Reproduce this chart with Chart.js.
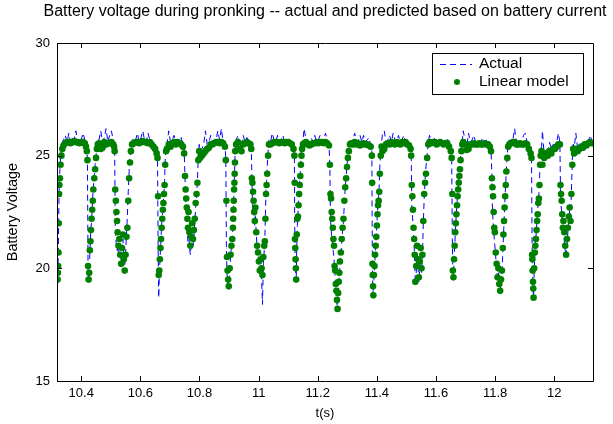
<!DOCTYPE html>
<html>
<head>
<meta charset="utf-8">
<script src="https://cdn.jsdelivr.net/npm/chart.js@4.4.1/dist/chart.umd.min.js"></script>
<style>
  html, body { margin: 0; padding: 0; background: #fff; }
  #wrap { width: 613px; height: 424px; }
</style>
</head>
<body>
<div id="wrap"><canvas id="c" width="613" height="424"></canvas></div>
<script>
const titleText = 'Battery voltage during pronking -- actual and predicted based on battery current';
const xLabel = 't(s)';
const yLabel = 'Battery Voltage';
const seriesNames = ['Actual', 'Linear model'];
const xTicks = [10.4, 10.6, 10.8, 11, 11.2, 11.4, 11.6, 11.8, 12];
const xTickLabels = ['10.4', '10.6', '10.8', '11', '11.2', '11.4', '11.6', '11.8', '12'];
const yTicks = [15, 20, 25, 30];
const xRange = [10.318, 12.131];
const yRange = [15, 30];

// sample times (s): sparse on the plateaus, denser in the dips
const time = [
  10.320, 10.321, 10.322, 10.323, 10.324, 10.325, 10.326, 10.328, 10.330, 10.333, 10.336,
  10.340, 10.346, 10.352, 10.358, 10.364, 10.370, 10.376, 10.382, 10.388, 10.394, 10.400, 10.406, 10.412, 10.416,
  10.419, 10.421, 10.423, 10.425, 10.427, 10.429, 10.431, 10.433, 10.435, 10.437, 10.439, 10.441, 10.444, 10.447, 10.450, 10.453, 10.456,
  10.460, 10.466, 10.472, 10.478, 10.484, 10.490, 10.496, 10.502, 10.508, 10.511,
  10.513, 10.515, 10.517, 10.519, 10.521, 10.523, 10.526, 10.529, 10.532, 10.535, 10.538, 10.541, 10.544, 10.547, 10.550, 10.553, 10.556, 10.559, 10.562, 10.565, 10.568, 10.572,
  10.578, 10.584, 10.590, 10.596, 10.602, 10.608, 10.614, 10.620, 10.626, 10.632, 10.638, 10.644, 10.650, 10.655,
  10.658, 10.660, 10.662, 10.664, 10.666, 10.668, 10.670, 10.672, 10.674, 10.676, 10.678, 10.680, 10.682, 10.684, 10.687,
  10.690, 10.696, 10.702, 10.708, 10.714, 10.720, 10.726, 10.732, 10.738, 10.744, 10.748,
  10.751, 10.753, 10.755, 10.757, 10.759, 10.761, 10.763, 10.766, 10.769, 10.772, 10.775, 10.778, 10.781, 10.784, 10.787, 10.790, 10.793, 10.796, 10.799,
  10.802, 10.808, 10.814, 10.820, 10.826, 10.832, 10.838, 10.844, 10.850, 10.856, 10.862, 10.868, 10.874, 10.880, 10.886,
  10.889, 10.891, 10.893, 10.895, 10.897, 10.899, 10.902, 10.905, 10.908, 10.911, 10.913, 10.914, 10.915, 10.916, 10.917, 10.918, 10.919, 10.920, 10.921,
  10.924, 10.930, 10.936, 10.942, 10.948, 10.954, 10.960, 10.966, 10.972, 10.975,
  10.977, 10.979, 10.981, 10.983, 10.985, 10.987, 10.989, 10.992, 10.995, 10.998, 11.001, 11.004, 11.007, 11.010, 11.013, 11.016, 11.019, 11.021, 11.023, 11.025, 11.027, 11.029, 11.032, 11.035,
  11.040, 11.046, 11.052, 11.058, 11.064, 11.070, 11.076, 11.082, 11.088, 11.094, 11.100, 11.106, 11.112, 11.118,
  11.121, 11.122, 11.123, 11.124, 11.125, 11.126, 11.127, 11.129, 11.131, 11.133, 11.135, 11.137, 11.139, 11.141, 11.143, 11.145, 11.147, 11.150,
  11.154, 11.160, 11.166, 11.172, 11.178, 11.184, 11.190, 11.196, 11.202, 11.208, 11.214, 11.220, 11.226, 11.232, 11.238,
  11.241, 11.243, 11.245, 11.247, 11.249, 11.251, 11.253, 11.255, 11.257, 11.259, 11.261, 11.263, 11.265, 11.267, 11.269, 11.271, 11.273, 11.275, 11.278, 11.281, 11.284, 11.287, 11.290, 11.293, 11.296, 11.299, 11.302, 11.305, 11.309,
  11.313, 11.319, 11.325, 11.331, 11.337, 11.343, 11.349, 11.355, 11.361, 11.367, 11.373, 11.379,
  11.383, 11.384, 11.385, 11.386, 11.387, 11.388, 11.390, 11.392, 11.394, 11.396, 11.398, 11.400, 11.402, 11.404, 11.406, 11.408, 11.410, 11.413, 11.416,
  11.419, 11.425, 11.431, 11.437, 11.443, 11.449, 11.455, 11.461, 11.467, 11.473, 11.479, 11.485, 11.491, 11.497, 11.503, 11.509, 11.514,
  11.516, 11.518, 11.520, 11.522, 11.524, 11.526, 11.528, 11.530, 11.533, 11.536, 11.539, 11.542, 11.545, 11.548, 11.551, 11.554, 11.557, 11.560, 11.563, 11.566, 11.570, 11.574,
  11.578, 11.584, 11.590, 11.596, 11.602, 11.608, 11.614, 11.620, 11.626, 11.632, 11.638, 11.644, 11.650,
  11.653, 11.655, 11.657, 11.659, 11.661, 11.663, 11.665, 11.667, 11.669, 11.671, 11.673, 11.675, 11.677, 11.679, 11.681, 11.683, 11.686, 11.689,
  11.692, 11.698, 11.704, 11.710, 11.716, 11.722, 11.728, 11.734, 11.740, 11.746, 11.752, 11.758, 11.764, 11.770, 11.776, 11.782, 11.786,
  11.789, 11.791, 11.793, 11.795, 11.797, 11.799, 11.802, 11.805, 11.808, 11.811, 11.814, 11.817, 11.820, 11.823, 11.826, 11.828, 11.830, 11.832, 11.834, 11.836, 11.838, 11.841, 11.844,
  11.848, 11.854, 11.860, 11.866, 11.872, 11.878, 11.884, 11.890, 11.896, 11.902, 11.908, 11.914, 11.920, 11.923,
  11.925, 11.926, 11.927, 11.928, 11.929, 11.930, 11.932, 11.934, 11.936, 11.938, 11.940, 11.942, 11.944, 11.946, 11.948, 11.950, 11.952, 11.954, 11.957,
  11.960, 11.966, 11.972, 11.978, 11.984, 11.990, 11.996, 12.002, 12.008, 12.014, 12.019,
  12.021, 12.023, 12.025, 12.027, 12.029, 12.031, 12.034, 12.037, 12.040, 12.043, 12.046, 12.049, 12.052, 12.055, 12.058, 12.061, 12.064,
  12.067, 12.073, 12.079, 12.085, 12.091, 12.097, 12.103, 12.109, 12.115, 12.121, 12.127
];

// measured battery voltage (V)
const actual = [
  19.3, 19.7, 20.3, 21.2, 22.4, 23.4, 23.9, 24.4, 24.9, 25.3, 25.6,
  25.7, 25.9, 25.6, 26.0, 25.6, 25.8, 25.7, 26.1, 25.6, 25.8, 25.7, 26.0, 25.7, 25.5,
  25.4, 24.6, 20.0, 19.4, 19.9, 20.6, 21.3, 21.8, 22.1, 22.7, 23.2, 23.6, 24.1, 24.6, 25.0, 25.4, 25.7,
  25.7, 26.1, 25.6, 25.8, 26.2, 25.6, 25.9, 26.1, 25.7, 25.5,
  25.3, 22.0, 21.3, 21.0, 20.8, 20.9, 20.6, 21.1, 20.5, 20.3, 20.8, 21.3, 20.5, 20.1, 20.7, 21.5, 22.3, 23.4, 24.3, 24.9, 25.4, 25.7,
  25.8, 25.7, 26.0, 25.6, 25.8, 26.1, 25.7, 25.6, 26.0, 25.7, 25.6, 25.5, 25.4, 25.2,
  25.0, 21.0, 18.7, 19.6, 20.3, 20.8, 21.4, 21.9, 22.3, 22.5, 23.0, 23.4, 23.9, 24.8, 25.4,
  25.5, 26.1, 25.6, 25.7, 25.9, 25.6, 25.7, 25.6, 25.8, 25.5, 25.3,
  24.0, 22.8, 22.3, 21.9, 21.5, 21.2, 21.8, 21.0, 20.6, 21.0, 21.6, 21.0, 21.4, 22.0, 22.7, 23.2, 23.9, 25.0, 25.5,
  25.2, 25.3, 25.5, 26.1, 25.5, 25.6, 25.9, 25.6, 25.7, 25.7, 26.1, 25.7, 26.2, 25.6, 25.5,
  24.9, 21.0, 19.8, 19.4, 19.2, 19.3, 19.9, 20.5, 21.0, 21.4, 21.9, 22.3, 22.7, 23.2, 23.6, 24.0, 24.4, 24.9, 25.3,
  25.7, 25.9, 25.4, 25.5, 25.9, 25.6, 25.8, 25.7, 25.6, 25.4,
  24.2, 22.9, 22.5, 22.6, 22.2, 21.9, 22.4, 21.5, 20.9, 20.6, 20.2, 19.8, 20.1, 19.5, 18.4, 20.2, 20.8, 21.3, 22.4, 23.5, 23.9, 24.5, 25.2, 25.7,
  25.6, 26.0, 25.7, 25.6, 25.9, 25.6, 25.7, 25.9, 25.6, 25.7, 25.6, 25.6, 25.5, 25.4,
  25.2, 22.0, 20.8, 20.2, 19.8, 19.6, 19.4, 21.0, 21.9, 22.4, 22.9, 23.4, 23.9, 24.3, 24.8, 25.2, 25.5, 25.7,
  26.2, 25.7, 25.6, 25.6, 25.8, 25.6, 25.9, 25.6, 25.7, 25.9, 25.6, 25.7, 26.0, 25.7, 25.5,
  24.5, 22.2, 21.8, 21.4, 21.2, 20.9, 20.7, 20.4, 19.9, 19.6, 19.0, 18.6, 18.4, 18.3, 18.8, 19.2, 19.7, 20.1, 20.6, 21.1, 21.7, 22.1, 22.9, 23.6, 24.1, 24.6, 25.0, 25.4, 25.6,
  25.6, 25.7, 26.0, 25.6, 25.7, 25.9, 25.6, 25.9, 25.6, 25.7, 25.8, 25.5,
  25.2, 22.0, 19.8, 19.3, 18.9, 18.8, 19.5, 20.0, 20.5, 21.0, 21.5, 22.0, 22.5, 22.9, 23.2, 23.7, 24.5, 25.3, 25.6,
  26.0, 26.1, 25.6, 25.7, 25.9, 25.6, 26.0, 25.7, 25.6, 25.9, 25.6, 25.7, 25.9, 25.6, 25.6, 25.5, 25.4,
  25.2, 22.8, 22.4, 22.0, 21.5, 21.0, 20.3, 19.3, 19.8, 20.6, 20.1, 19.4, 20.0, 20.5, 19.8, 20.5, 22.0, 23.1, 23.9, 24.5, 25.0, 25.6,
  25.9, 25.7, 25.6, 25.8, 25.6, 25.7, 25.6, 25.7, 25.6, 25.7, 25.8, 25.5, 25.3,
  25.0, 21.5, 19.8, 19.7, 20.2, 20.9, 21.5, 22.0, 22.5, 22.9, 23.2, 23.6, 23.9, 24.2, 24.5, 24.9, 25.4, 25.7,
  26.1, 25.7, 25.4, 26.0, 25.6, 25.7, 25.9, 25.6, 25.6, 25.7, 25.6, 25.8, 25.6, 25.7, 25.6, 25.5, 25.3,
  24.2, 22.5, 22.1, 21.8, 21.3, 21.0, 20.5, 20.0, 19.5, 19.8, 19.2, 19.0, 19.4, 19.8, 20.7, 21.4, 22.0, 22.7, 23.3, 23.8, 24.4, 25.0, 25.6,
  25.7, 25.6, 25.7, 26.2, 25.6, 25.4, 25.6, 25.6, 25.9, 26.0, 25.6, 25.4, 25.2, 25.0,
  21.0, 20.0, 19.5, 19.0, 18.8, 18.7, 19.8, 20.5, 21.0, 21.4, 21.8, 22.2, 22.6, 23.0, 23.3, 23.9, 24.7, 25.2, 25.4,
  26.1, 25.0, 25.3, 25.2, 25.6, 25.3, 25.5, 25.5, 25.6, 26.0, 25.6,
  23.5, 22.8, 22.5, 22.0, 21.5, 21.9, 21.2, 20.8, 20.5, 21.0, 21.6, 22.2, 22.6, 22.3, 23.4, 24.8, 25.6,
  25.3, 26.0, 25.3, 25.1, 25.5, 25.6, 25.6, 25.7, 25.6, 25.9, 25.7
];

// voltage predicted from battery current (V)
const model = [
  19.5, 19.8, 20.1, 20.7, 22.0, 23.3, 23.7, 24.0, 24.6, 25.0, 25.3,
  25.45, 25.55, 25.6, 25.6, 25.55, 25.6, 25.65, 25.6, 25.6, 25.55, 25.6, 25.6, 25.55, 25.4,
  25.2, 24.8, 20.1, 19.5, 19.8, 20.8, 21.2, 21.7, 22.2, 22.6, 23.0, 23.5, 24.0, 24.4, 24.9, 25.3, 25.5,
  25.55, 25.3, 25.35, 25.6, 25.5, 25.55, 25.55, 25.6, 25.5, 25.4,
  25.2, 23.5, 23.0, 22.5, 22.1, 21.6, 21.0, 21.3, 20.6, 20.2, 20.9, 21.5, 20.4, 19.9, 20.6, 21.4, 21.8, 23.0, 24.0, 24.7, 25.2, 25.5,
  25.55, 25.6, 25.6, 25.55, 25.6, 25.65, 25.6, 25.6, 25.55, 25.6, 25.5, 25.4, 25.3, 25.1,
  24.9, 23.2, 19.7, 19.9, 20.4, 20.9, 21.3, 21.8, 22.2, 22.6, 22.9, 23.3, 23.7, 24.6, 25.2,
  25.3, 25.5, 25.4, 25.55, 25.6, 25.5, 25.6, 25.55, 25.5, 25.4, 25.1,
  24.1, 23.5, 23.1, 22.7, 22.2, 21.8, 22.5, 21.6, 21.0, 21.4, 22.0, 21.3, 21.7, 22.2, 22.9, 23.3, 23.8, 24.8, 25.2,
  24.9, 25.0, 25.1, 25.2, 25.3, 25.35, 25.5, 25.5, 25.55, 25.6, 25.6, 25.55, 25.6, 25.55, 25.4,
  24.8, 23.0, 20.5, 19.9, 19.5, 19.2, 20.0, 20.6, 21.0, 21.3, 21.8, 22.2, 22.6, 23.0, 23.5, 23.8, 24.2, 24.7, 25.2,
  25.5, 25.6, 25.3, 25.2, 25.5, 25.55, 25.6, 25.55, 25.5, 25.3,
  24.0, 23.8, 23.4, 23.0, 22.5, 22.1, 22.7, 21.6, 21.0, 20.7, 20.3, 19.9, 20.4, 20.0, 19.7, 20.5, 21.0, 21.2, 22.2, 23.3, 23.7, 24.2, 25.0, 25.5,
  25.5, 25.55, 25.6, 25.6, 25.6, 25.55, 25.6, 25.6, 25.55, 25.6, 25.6, 25.55, 25.5, 25.3,
  25.0, 23.8, 21.3, 20.9, 20.4, 20.0, 19.5, 21.5, 22.2, 22.3, 22.8, 23.3, 23.7, 24.1, 24.6, 25.0, 25.3, 25.5,
  25.55, 25.6, 25.5, 25.45, 25.5, 25.55, 25.55, 25.6, 25.55, 25.6, 25.6, 25.55, 25.6, 25.55, 25.45,
  24.6, 23.3, 23.1, 22.5, 22.2, 21.8, 21.3, 21.0, 20.1, 19.9, 19.3, 19.0, 18.6, 18.2, 18.9, 19.4, 19.8, 20.3, 20.7, 21.3, 21.8, 22.2, 23.0, 23.6, 24.0, 24.5, 24.9, 25.2, 25.5,
  25.55, 25.5, 25.6, 25.5, 25.55, 25.45, 25.5, 25.55, 25.5, 25.5, 25.45, 25.4,
  25.0, 23.8, 20.2, 19.7, 19.2, 18.8, 19.7, 20.1, 20.6, 21.0, 21.4, 21.9, 22.4, 22.8, 23.0, 23.4, 24.2, 25.0, 25.4,
  25.2, 25.3, 25.5, 25.55, 25.5, 25.6, 25.55, 25.5, 25.6, 25.55, 25.5, 25.6, 25.55, 25.6, 25.5, 25.45, 25.3,
  25.0, 23.7, 23.2, 22.6, 21.8, 21.3, 20.6, 19.4, 20.1, 21.0, 20.4, 19.6, 20.3, 20.9, 20.0, 20.6, 22.1, 23.3, 23.8, 24.2, 24.9, 25.5,
  25.6, 25.55, 25.6, 25.6, 25.5, 25.55, 25.6, 25.55, 25.5, 25.55, 25.55, 25.4, 25.2,
  24.9, 23.3, 19.9, 19.6, 20.4, 21.0, 21.6, 22.0, 22.4, 22.8, 23.2, 23.5, 23.8, 24.1, 24.4, 24.8, 25.2, 25.5,
  25.6, 25.5, 25.25, 25.3, 25.5, 25.5, 25.55, 25.5, 25.5, 25.55, 25.5, 25.5, 25.55, 25.5, 25.5, 25.4, 25.2,
  24.0, 23.6, 23.2, 22.5, 21.8, 21.6, 20.7, 20.2, 19.6, 20.0, 19.3, 19.0, 19.5, 19.9, 20.9, 21.5, 22.1, 22.7, 23.2, 23.7, 24.3, 24.9, 25.4,
  25.5, 25.55, 25.6, 25.6, 25.5, 25.5, 25.55, 25.5, 25.5, 25.55, 25.5, 25.3, 25.1, 24.9,
  20.6, 20.4, 19.9, 19.4, 19.1, 18.7, 20.0, 20.7, 21.0, 21.3, 21.7, 22.1, 22.4, 22.9, 23.1, 23.7, 24.6, 25.0, 25.2,
  24.6, 24.9, 25.1, 25.0, 25.2, 25.1, 25.3, 25.3, 25.4, 25.5, 25.5,
  23.7, 23.3, 23.0, 22.4, 21.8, 22.1, 21.6, 21.0, 20.6, 21.3, 21.8, 22.3, 22.7, 22.1, 23.3, 24.6, 25.3,
  25.1, 25.3, 25.2, 25.3, 25.4, 25.35, 25.5, 25.45, 25.55, 25.6, 25.55
];

if (time.length !== actual.length || time.length !== model.length) {
  console.error('length mismatch', time.length, actual.length, model.length);
}

const FONT = "'Liberation Sans', Arial, Helvetica, sans-serif";
const BLUE = '#0000ff';
const GREEN = '#008000';

// frame with inward ticks, title and legend box, MATLAB style
const matlabFrame = {
  id: 'matlabFrame',
  afterDraw(chart) {
    const { ctx, chartArea: a, scales: { x, y } } = chart;
    ctx.save();
    ctx.strokeStyle = '#000';
    ctx.lineWidth = 1;
    ctx.setLineDash([]);
    ctx.beginPath();
    ctx.rect(Math.round(a.left) + 0.5, Math.round(a.top) + 0.5,
             Math.round(a.right - a.left), Math.round(a.bottom - a.top));
    ctx.stroke();

    const tl = 5;
    ctx.beginPath();
    xTicks.forEach(v => {
      const px = Math.round(x.getPixelForValue(v)) + 0.5;
      ctx.moveTo(px, a.bottom); ctx.lineTo(px, a.bottom - tl);
      ctx.moveTo(px, a.top); ctx.lineTo(px, a.top + tl);
    });
    yTicks.forEach(v => {
      const py = Math.round(y.getPixelForValue(v)) + 0.5;
      ctx.moveTo(a.left, py); ctx.lineTo(a.left + tl, py);
      ctx.moveTo(a.right, py); ctx.lineTo(a.right - tl, py);
    });
    ctx.stroke();

    // title
    ctx.fillStyle = '#000';
    ctx.font = '16px ' + FONT;
    ctx.textAlign = 'center';
    ctx.textBaseline = 'middle';
    ctx.fillText(titleText, (a.left + a.right) / 2, 12);

    // legend
    const lx = 432, ly = 53, lw = 151, lh = 41;
    ctx.fillStyle = '#fff';
    ctx.fillRect(lx, ly, lw, lh);
    ctx.strokeStyle = '#000';
    ctx.strokeRect(lx + 0.5, ly + 0.5, lw, lh);

    ctx.strokeStyle = BLUE;
    ctx.setLineDash([6, 4]);
    ctx.beginPath();
    ctx.moveTo(440, 64.5); ctx.lineTo(472, 64.5);
    ctx.stroke();
    ctx.setLineDash([]);

    ctx.fillStyle = GREEN;
    ctx.beginPath();
    ctx.arc(457, 82, 3, 0, Math.PI * 2);
    ctx.fill();

    ctx.fillStyle = '#000';
    ctx.font = '15.5px ' + FONT;
    ctx.textAlign = 'left';
    ctx.fillText(seriesNames[0], 479, 64);
    ctx.fillText(seriesNames[1], 479, 82);
    ctx.restore();
  }
};

new Chart(document.getElementById('c'), {
  type: 'line',
  data: {
    datasets: [
      {
        label: seriesNames[0],
        data: time.map((t, i) => ({ x: t, y: actual[i] })),
        borderColor: BLUE,
        borderWidth: 1,
        borderDash: [6, 4],
        pointRadius: 0,
        tension: 0,
        fill: false,
        order: 2
      },
      {
        label: seriesNames[1],
        data: time.map((t, i) => ({ x: t, y: model[i] })),
        showLine: false,
        pointRadius: 3.3,
        pointBorderWidth: 0,
        pointBackgroundColor: GREEN,
        pointBorderColor: GREEN,
        order: 1
      }
    ]
  },
  options: {
    responsive: false,
    animation: false,
    devicePixelRatio: 1,
    layout: { padding: { top: 43, right: 20, left: 0, bottom: 0 } },
    plugins: {
      legend: { display: false },
      title: { display: false },
      tooltip: { enabled: false }
    },
    scales: {
      x: {
        type: 'linear',
        min: xRange[0],
        max: xRange[1],
        grid: { display: false, drawTicks: false },
        border: { display: false },
        afterBuildTicks: s => { s.ticks = xTicks.map(v => ({ value: v })); },
        afterFit: s => { s.height = 43; },
        ticks: {
          color: '#000',
          font: { family: FONT, size: 13 },
          padding: 5,
          maxRotation: 0,
          autoSkip: false,
          callback: (v, i) => xTickLabels[i]
        },
        title: {
          display: true,
          text: xLabel,
          color: '#000',
          font: { family: FONT, size: 13 },
          padding: { top: 0, bottom: 3 }
        }
      },
      y: {
        type: 'linear',
        min: yRange[0],
        max: yRange[1],
        grid: { display: false, drawTicks: false },
        border: { display: false },
        afterBuildTicks: s => { s.ticks = yTicks.map(v => ({ value: v })); },
        afterFit: s => { s.width = 57; },
        ticks: {
          color: '#000',
          font: { family: FONT, size: 13 },
          padding: 7,
          callback: v => String(v)
        },
        title: {
          display: true,
          text: yLabel,
          color: '#000',
          font: { family: FONT, size: 14.5 },
          padding: { top: 4, bottom: 0 }
        }
      }
    }
  },
  plugins: [matlabFrame]
});
</script>
</body>
</html>
